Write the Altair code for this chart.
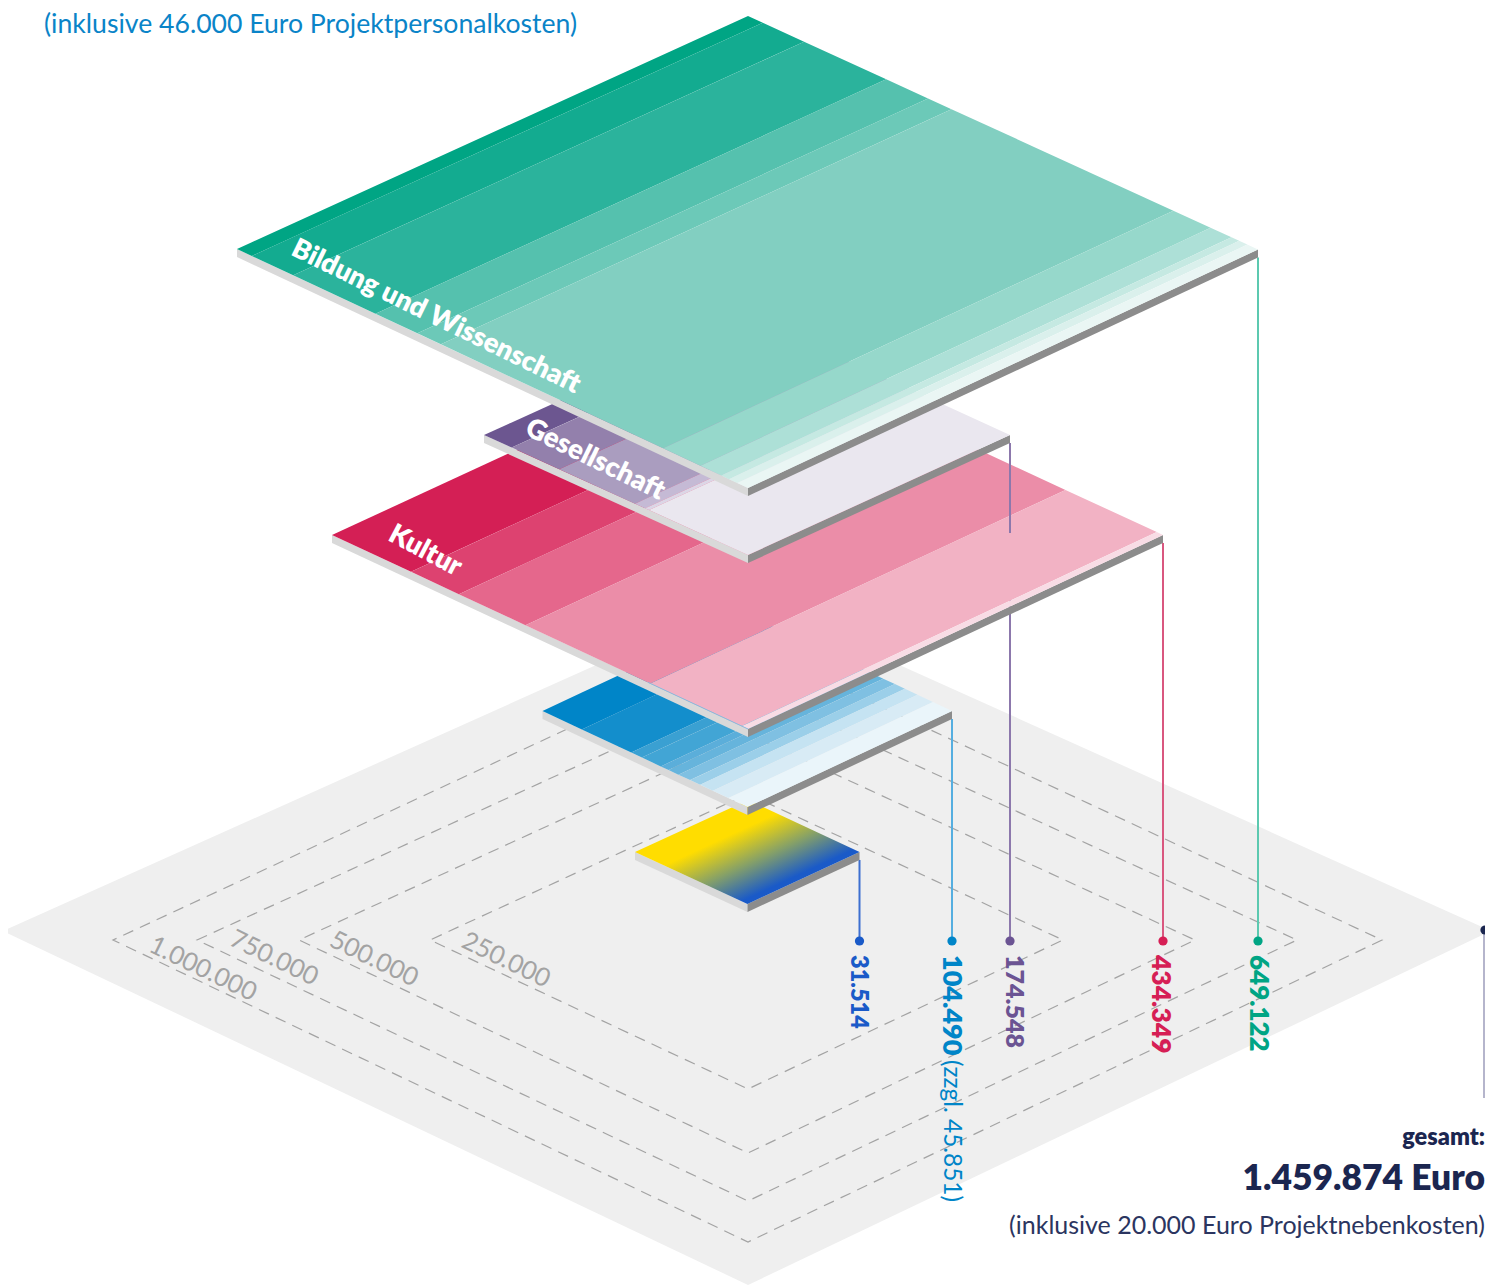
import altair as alt
import pandas as pd

FONT = "Lato"
# ---------- values ----------
names = ["Nothilfe", "Umwelt", "Gesellschaft", "Kultur", "Bildung und Wissenschaft"]
values = [31514, 104490, 174548, 434349, 649122]
value_colors = ["#1A5AC8", "#0085C8", "#6B5493", "#D61F55", "#00A584"]
line_colors = ["#3D6FD0", "#55AEE0", "#8C78AC", "#D9577F", "#5CC9B0"]
value_sizes = [23.5, 27, 25, 26.5, 26]
label_x = [858, 951, 1014, 1160, 1258]

# corners of each slab's top face: top, right, bottom, left
corners = {
    "Nothilfe": [(748, 800), (859.5, 852), (747.5, 904), (635, 852)],
    "Umwelt": [(748, 615), (952, 711), (747.5, 807), (542.5, 711)],
    "Gesellschaft": [(748, 315), (1010, 435), (748, 555), (484, 435)],
    "Kultur": [(748, 343), (1163, 535), (748, 729), (332, 535)],
    "Bildung und Wissenschaft": [(748, 16), (1258, 249.5), (748, 488), (237, 249)],
}
THICK = 8

# band boundaries (share of the side) and band colours
bands = {
    "Umwelt": ([0, .192, .433, .485, .577, .615, .663, .72, .769, .831, .907, 1],
               ["#0085C8", "#138ECC", "#3AA0D2", "#42A5D5", "#5BAEDA", "#66B4DC", "#7FC0E2",
                "#9BCFE9", "#C5E3F2", "#D8EBF5", "#EAF5FA"]),
    "Gesellschaft": ([0, .105, .285, .572, .61, .625, 1],
                     ["#6C5690", "#9380AC", "#AA9DBF", "#C5BAD5", "#DCD6E6", "#EAE7EF"]),
    "Kultur": ([0, .19, .305, .465, .765, .985, 1],
               ["#D41F55", "#DD4270", "#E5678C", "#EB8DA8", "#F2B2C4", "#F8DCE5"]),
    "Bildung und Wissenschaft": ([0, .029, .11, .271, .353, .399, .834, .907, .948, .963, .979, 1],
                                 ["#00A584", "#13AB90", "#2BB39C", "#55C1AE", "#6CC9B8", "#82CFC1",
                                  "#96D8CB", "#ADE0D7", "#C5E9E2", "#DAF0EC", "#EAF6F4"]),
}

grid_values = ["250.000", "500.000", "750.000", "1.000.000"]
grid_corners = [
    [(748, 794), (1063, 940), (748, 1089), (430, 940)],
    [(748, 734), (1195, 940), (748, 1153), (299, 940)],
    [(748, 688), (1297, 940), (748, 1201), (197, 940)],
    [(748, 645), (1382, 940), (748, 1242), (113, 940)],
]
grid_label_pos = [(506, 960), (374, 959), (274, 958), (203, 969)]
base_corners = [(748, 597), (1491, 931), (748, 1285), (3, 931)]

X = alt.X("x:Q", scale=alt.Scale(domain=[8, 1485], nice=False, zero=False), axis=None)
Y = alt.Y("y:Q", scale=alt.Scale(domain=[1285, 8], nice=False, zero=False), axis=None)
Y2 = alt.Y2("y2:Q")


def area_rows(pts, pid, color):
    """Turn a convex polygon into x / y / y2 rows for an area mark."""
    xs = sorted({p[0] for p in pts})
    rows = []
    n = len(pts)
    for xi in xs:
        ys = []
        for i in range(n):
            (x0, y0), (x1, y1) = pts[i], pts[(i + 1) % n]
            if x0 == x1:
                if x0 == xi:
                    ys += [y0, y1]
            elif min(x0, x1) <= xi <= max(x0, x1):
                ys.append(y0 + (xi - x0) / (x1 - x0) * (y1 - y0))
        rows.append({"x": xi, "y": min(ys), "y2": max(ys), "id": pid, "c": color})
    return rows


def lerp(a, b, t):
    return (a[0] + (b[0] - a[0]) * t, a[1] + (b[1] - a[1]) * t)


def area_chart(rows, opacity=1):
    return alt.Chart(pd.DataFrame(rows)).mark_area(opacity=opacity, interpolate="linear").encode(
        x=X, y=Y, y2=Y2, detail="id:N", color=alt.Color("c:N", scale=None))


def slab(name):
    T, R, B, L = corners[name]
    rows = []
    rows += area_rows([L, B, (B[0], B[1] + THICK), (L[0], L[1] + THICK)], name + "l", "#D9D9D9")
    rows += area_rows([B, R, (R[0], R[1] + THICK), (B[0], B[1] + THICK)], name + "r", "#8C8C8C")
    layers = [area_chart(rows)]
    if name in bands:
        edges, cols = bands[name]
        strip = []
        for i, col in enumerate(cols):
            a, b = edges[i], edges[i + 1]
            strip += area_rows([lerp(T, R, a), lerp(T, R, b), lerp(L, B, b), lerp(L, B, a)],
                               f"{name}{i}", col)
        layers.append(area_chart(strip))
    else:
        grad = alt.Gradient(gradient="linear", x1=.25, y1=.25, x2=.75, y2=.75,
                            stops=[alt.GradientStop(offset=0, color="#FFDD00"),
                                   alt.GradientStop(offset=.26, color="#FFDD00"),
                                   alt.GradientStop(offset=.62, color="#85A068"),
                                   alt.GradientStop(offset=.95, color="#1A5AC8"),
                                   alt.GradientStop(offset=1, color="#1A5AC8")])
        layers.append(alt.Chart(pd.DataFrame(area_rows([T, R, B, L], "y", "#000")))
                      .mark_area(color=grad, interpolate="linear")
                      .encode(x=X, y=Y, y2=Y2))
    return layers


def vline(x, y0, y1, color, width=2):
    return alt.Chart(pd.DataFrame({"x": [x, x], "y": [y0, y1]})).mark_line(
        color=color, strokeWidth=width, strokeCap="butt").encode(x=X, y=Y)


def text(s, x, y, size, color, weight="normal", angle=0, align="center", baseline="middle"):
    return alt.Chart(pd.DataFrame({"x": [x], "y": [y], "t": [s]})).mark_text(
        font=FONT, fontSize=size, color=color, fontWeight=weight, angle=angle,
        align=align, baseline=baseline).encode(x=X, y=Y, text="t:N")


layers = [area_chart(area_rows(base_corners, "base", "#EFEFEF"))]

# dashed reference squares
for lab, gc, pos in zip(grid_values, grid_corners, grid_label_pos):
    closed = gc + [gc[0]]
    df = pd.DataFrame({"x": [p[0] for p in closed], "y": [p[1] for p in closed],
                       "i": list(range(len(closed)))})
    layers.append(alt.Chart(df).mark_line(color="#A3A3A3", strokeWidth=1.2, strokeDash=[11, 7.4])
                  .encode(x=X, y=Y, order="i:Q"))
    layers.append(text(lab, pos[0], pos[1], 25.5, "#A3A3A3", angle=26))

# connector lines, dots and value labels
for name, val, vc, lc, vs, lx in zip(names, values, value_colors, line_colors, value_sizes, label_x):
    T, R, B, L = corners[name]
    top = R[1] + THICK
    if name == "Gesellschaft":
        top = 532
    layers.append(vline(R[0], top, 941, lc))
    layers.append(alt.Chart(pd.DataFrame({"x": [R[0]], "y": [941]})).mark_point(
        filled=True, size=85, color=vc, opacity=1).encode(x=X, y=Y))
    s = f"{val:,}".replace(",", ".")
    layers.append(text(s, lx, 955, vs, vc, weight=800, angle=90, align="left"))
layers.append(text("(zzgl. 45.851)", 951, 1060, 24.4, "#0085C8", angle=90, align="left"))
layers.append(vline(1484, 932, 1098, "#B5B5CC"))
layers.append(alt.Chart(pd.DataFrame({"x": [1485], "y": [930]})).mark_point(
    filled=True, size=85, color="#1B2650", opacity=1).encode(x=X, y=Y))

# slabs, back to front
for name in names:
    if name == "Gesellschaft":
        T, R, B, L = corners[name]
        layers_after = vline(R[0], R[1] + THICK, 533, line_colors[2])
        gesell = slab(name)
        continue
    if name == "Bildung und Wissenschaft":
        layers.append(layers_after)
        layers += gesell
    layers += slab(name)
    if name == "Kultur":
        T, R, B, L = corners[name]
        p = lerp(L, B, .76)
        edge = pd.DataFrame({"x": [p[0], B[0]], "y": [p[1], B[1]]})
        layers.append(alt.Chart(edge).mark_line(color="#8FB9DC", strokeWidth=1).encode(x=X, y=Y))

layers.append(text("Bildung und Wissenschaft", 436, 317, 27.2, "white", weight=800, angle=26))
layers.append(text("Gesellschaft", 595, 460, 27.5, "white", weight=800, angle=26))
layers.append(text("Kultur", 425, 551, 27.5, "white", weight=800, angle=28))

layers.append(text("(inklusive 46.000 Euro Projektpersonalkosten)", 44, 25, 26.6, "#0A84C8", align="left"))
layers.append(text("gesamt:", 1485, 1138, 23.5, "#1B2650", weight=800, align="right"))
layers.append(text("1.459.874 Euro", 1485, 1179, 35.4, "#1B2650", weight=800, align="right"))
layers.append(text("(inklusive 20.000 Euro Projektnebenkosten)", 1485, 1226, 25, "#2B3560", align="right"))

chart = alt.layer(*layers).properties(
    width=1477, height=1277, padding=0, autosize=alt.AutoSizeParams(type="none")
).configure_view(strokeWidth=0)

chart.save("out.html", embed_options={"renderer": "svg", "actions": False})
